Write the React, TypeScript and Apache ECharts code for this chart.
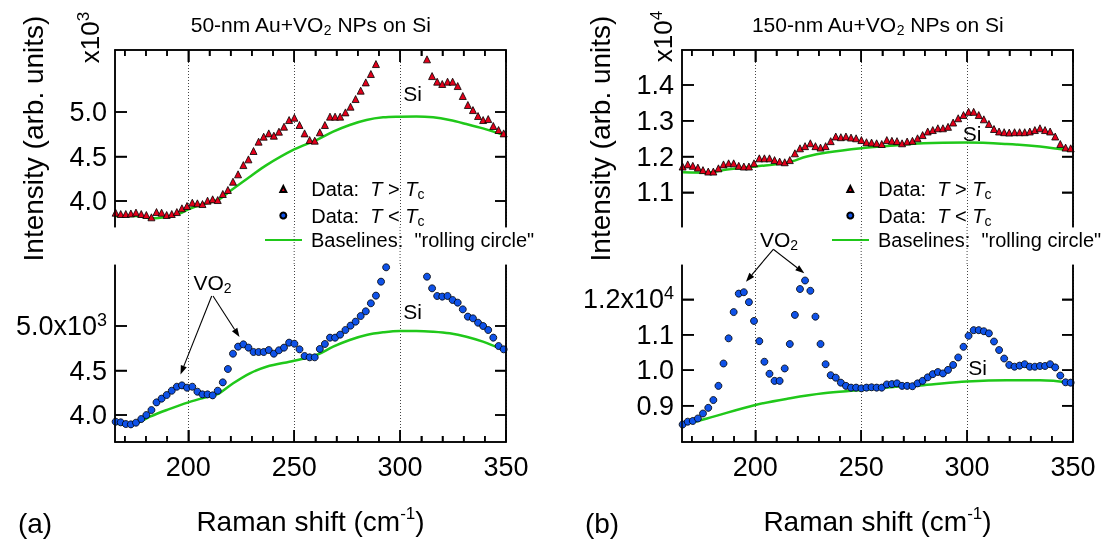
import React, { useEffect, useRef } from "react";
import * as echarts from "echarts";

// Raman shift (cm^-1) of every sample point
const ramanShift = [
  165.7, 168.1, 170.5, 172.9, 175.3, 177.8, 180.2, 182.6, 185.0, 187.4,
  189.8, 192.2, 194.6, 197.0, 199.4, 201.9, 204.3, 206.7, 209.1, 211.5,
  213.9, 216.3, 218.7, 221.1, 223.5, 226.0, 228.4, 230.8, 233.2, 235.6,
  238.0, 240.4, 242.8, 245.2, 247.6, 250.1, 252.5, 254.9, 257.3, 259.7,
  262.1, 264.5, 266.9, 269.3, 271.7, 274.2, 276.6, 279.0, 281.4, 283.8,
  286.2, 288.6, 291.0, 293.4, 295.8, 298.3, 300.7, 303.1, 305.5, 307.9,
  310.3, 312.7, 315.1, 317.5, 319.9, 322.4, 324.8, 327.2, 329.6, 332.0,
  334.4, 336.8, 339.2, 341.6, 344.0, 346.5, 348.9,
];

// 50-nm Au+VO2, T > Tc (null = off the top of the axis)
const hot50 = [
  3869, 3854, 3854, 3860, 3870, 3854, 3843, 3817, 3876, 3869,
  3843, 3854, 3876, 3918, 3944, 3981, 3974, 3966, 4004, 4019,
  4011, 4079, 4124, 4217, 4300, 4404, 4468, 4562, 4667, 4723,
  4760, 4734, 4779, 4835, 4910, 4936, 4854, 4760, 4685, 4678,
  4772, 4854, 4948, 4948, 4948, 4996, 5060, 5146, 5240, 5333,
  5427, 5539, null, null, null, null, null, null, null, null,
  null, 5592, 5404, 5341, 5315, 5341, 5341, 5292, 5180, 5079,
  5022, 4955, 4910, 4921, 4843, 4798, 4760,
];
// 50-nm Au+VO2, T < Tc
const cold50 = [
  3925, 3918, 3899, 3895, 3914, 3955, 4000, 4056, 4142, 4184,
  4225, 4273, 4318, 4333, 4307, 4318, 4262, 4232, 4232, 4221,
  4273, 4367, 4517, 4689, 4768, 4794, 4757, 4708, 4708, 4708,
  4730, 4689, 4727, 4757, 4813, 4801, 4738, 4663, 4648, 4648,
  4742, 4798, 4869, 4869, 4903, 4955, 5004, 5049, 5112, 5165,
  5255, 5341, 5498, 5659, null, null, null, null, null, null,
  null, 5554, 5423, 5337, 5330, 5337, 5292, 5262, 5187, 5105,
  5086, 5037, 5000, 4955, 4869, 4775, 4738,
];
// 150-nm Au+VO2, T > Tc
const hot150 = [
  11720, 11780, 11740, 11690, 11620, 11580, 11580, 11670, 11780, 11810,
  11810, 11740, 11720, 11720, 11810, 11950, 11950, 11950, 11900, 11860,
  11840, 11900, 12090, 12230, 12290, 12370, 12290, 12250, 12290, 12430,
  12560, 12540, 12560, 12530, 12510, 12460, 12400, 12390, 12370, 12350,
  12460, 12440, 12430, 12370, 12420, 12440, 12510, 12600, 12700, 12740,
  12790, 12790, 12830, 12950, 13070, 13160, 13250, 13250, 13160, 13040,
  12910, 12770, 12700, 12680, 12670, 12680, 12680, 12680, 12700, 12740,
  12790, 12740, 12700, 12560, 12350, 12250, 12230,
];
// 150-nm Au+VO2, T < Tc
const cold150 = [
  8470, 8550, 8570, 8640, 8780, 8940, 9160, 9560, 10190, 10900,
  11640, 12160, 12200, 11920, 11390, 10820, 10240, 9900, 9700, 9700,
  10050, 10740, 11560, 12290, 12530, 12240, 11510, 10740, 10170, 9860,
  9790, 9650, 9560, 9510, 9510, 9490, 9510, 9520, 9510, 9510,
  9600, 9610, 9630, 9560, 9560, 9550, 9630, 9700, 9800, 9890,
  9950, 9910, 10010, 10150, 10360, 10660, 10970, 11130, 11130, 11100,
  11040, 10810, 10570, 10330, 10150, 10100, 10130, 10170, 10100, 10100,
  10120, 10120, 10170, 10080, 9850, 9660, 9650,
];

// "rolling circle" baselines: [Raman shift, intensity]
const base50Hot = [
  [165.7, 3831], [175.6, 3831], [183.0, 3805], [189.8, 3824], [196.1, 3861],
  [200.0, 3906], [205.5, 3955], [214.6, 4019], [219.6, 4110], [229.1, 4273],
  [236.9, 4404], [250.0, 4580], [260.5, 4685], [268.4, 4779], [276.2, 4854],
  [284.1, 4910], [292.0, 4940], [299.8, 4948], [307.7, 4950], [315.6, 4940],
  [323.4, 4910], [331.3, 4865], [339.1, 4816], [349.0, 4742],
];
const base50Cold = [
  [165.7, 3906], [172.5, 3888], [177.2, 3925], [181.9, 3981], [189.8, 4056],
  [200.0, 4142], [212.3, 4225], [214.6, 4243], [221.2, 4356], [229.1, 4468],
  [236.9, 4543], [250.0, 4610], [260.5, 4674], [268.4, 4768], [276.2, 4843],
  [284.1, 4899], [292.0, 4929], [299.8, 4944], [307.7, 4944], [315.6, 4936],
  [323.4, 4918], [331.3, 4880], [339.1, 4824], [349.0, 4730],
];
const base150Hot = [
  [165.9, 11560], [177.2, 11550], [185.0, 11620], [200.0, 11720], [214.9, 11830],
  [224.4, 12000], [233.8, 12110], [250.0, 12230], [263.7, 12300], [279.4, 12370],
  [299.8, 12390], [318.7, 12350], [334.4, 12280], [349.2, 12160],
];
const base150Cold = [
  [165.9, 8470], [177.2, 8640], [200.0, 9020], [216.5, 9210], [232.2, 9350],
  [250.0, 9440], [263.7, 9520], [279.4, 9580], [299.8, 9680], [318.7, 9720],
  [334.4, 9720], [349.2, 9650],
];

const majorTicks = [200, 250, 300, 350];
const minorTicks = [170, 180, 190, 210, 220, 230, 240, 260, 270, 280, 290, 310, 320, 330, 340];
const guideLines = [200, 250, 300];
const yTicks50 = [4000, 4500, 5000];
const yTicks150Hot = [11000, 12000, 13000, 14000];
const yTicks150Cold = [9000, 10000, 11000, 12000];

const NAME_HOT = "Data: T > Tc";
const NAME_COLD = "Data: T < Tc";
const NAME_BASE = 'Baselines: "rolling circle"';

const FONT = "'Liberation Sans', Arial, Helvetica, sans-serif";
const X_MIN = 165.4;
const X_MAX = 350;
const RED = "#e3001b";
const BLUE = "#0f52e8";
const GREEN = "#20c81a";
const TOP_Y = 50;
const SUB_H = 177;
const BOT_Y = 265;
const GRID_W = 391;

function pairs(ys: (number | null)[]) {
  const out: number[][] = [];
  ramanShift.forEach((x, i) => {
    const y = ys[i];
    if (y !== null && y !== undefined) out.push([x, y]);
  });
  return out;
}

function arrow(x1: number, y1: number, x2: number, y2: number) {
  const ang = Math.atan2(y2 - y1, x2 - x1);
  const L = 9;
  const W = 3.2;
  const bx = x2 - L * Math.cos(ang);
  const by = y2 - L * Math.sin(ang);
  const px = -Math.sin(ang) * W;
  const py = Math.cos(ang) * W;
  return [
    { type: "line", shape: { x1, y1, x2: bx, y2: by }, style: { stroke: "#000", lineWidth: 1.1 } },
    {
      type: "polygon",
      shape: { points: [[x2, y2], [bx + px, by + py], [bx - px, by - py]] },
      style: { fill: "#000" },
    },
  ];
}

const ls = () => ({ color: "#000", width: 1.5 });
const dotted = () => ({ show: true, lineStyle: { color: "#444", width: 1, type: [1, 2] } });
// filled bars for frame and ticks (vertical / horizontal)
const vbar = (x: number, y1: number, y2: number, w = 1.5, color = "#000") => ({
  type: "rect", z: 5,
  shape: { x: x - w / 2, y: Math.min(y1, y2), width: w, height: Math.abs(y2 - y1) },
  style: { fill: color },
});
const hbar = (y: number, x1: number, x2: number, w = 1.5) => ({
  type: "rect", z: 5,
  shape: { x: Math.min(x1, x2), y: y - w / 2, width: Math.abs(x2 - x1), height: w },
  style: { fill: "#000" },
});

function buildOption() {
  const panels = [
    {
      left: 115, hot: hot50, cold: cold50, baseHot: base50Hot, baseCold: base50Cold,
      hotRange: [3708, 5697], coldRange: [3697, 5685], hotTicks: yTicks50, coldTicks: yTicks50,
      scale: 1000, exp: "3", marked: 5000,
    },
    {
      left: 682, hot: hot150, cold: cold150, baseHot: base150Hot, baseCold: base150Cold,
      hotRange: [10030, 14978], coldRange: [7977, 12967], hotTicks: yTicks150Hot, coldTicks: yTicks150Cold,
      scale: 10000, exp: "4", marked: 12000,
    },
  ];
  const grid: any[] = [];
  const xAxis: any[] = [];
  const yAxis: any[] = [];
  const series: any[] = [];
  const legend: any[] = [];
  const frame: any[] = [];
  const tickLabel = () => ({ fontSize: 27, fontFamily: FONT, color: "#000" });
  const supRich = () => ({
    m: { fontSize: 27, fontFamily: FONT, color: "#000", lineHeight: 30 },
    sup: { fontSize: 18, fontFamily: FONT, color: "#000", lineHeight: 16, verticalAlign: "top" },
  });

  panels.forEach((p, k) => {
    const gi = k * 2;
    const L = p.left;
    const R = p.left + GRID_W;
    grid.push({ left: L, width: GRID_W, top: TOP_Y, height: SUB_H });
    grid.push({ left: L, width: GRID_W, top: BOT_Y, height: SUB_H });

    const xBase = () => ({ type: "value", min: X_MIN, max: X_MAX, splitLine: { show: false } });
    xAxis.push({
      ...xBase(), gridIndex: gi, position: "top",
      axisLine: { show: true, onZero: false, lineStyle: ls() },
      axisTick: { show: true, inside: true, length: 12, customValues: majorTicks, lineStyle: ls() },
      axisLabel: { show: false },
      splitLine: dotted(),
    });
    xAxis.push({
      ...xBase(), gridIndex: gi, position: "top",
      axisLine: { show: false, onZero: false },
      axisTick: { show: true, inside: true, length: 6, customValues: minorTicks, lineStyle: ls() },
      axisLabel: { show: false },
    });
    xAxis.push({
      ...xBase(), gridIndex: gi + 1, position: "bottom",
      axisLine: { show: true, onZero: false, lineStyle: ls() },
      axisTick: { show: true, inside: true, length: 12, customValues: majorTicks, lineStyle: ls() },
      axisLabel: { show: true, customValues: majorTicks, margin: 11, ...tickLabel() },
      splitLine: dotted(),
    });
    xAxis.push({
      ...xBase(), gridIndex: gi + 1, position: "bottom",
      axisLine: { show: false, onZero: false },
      axisTick: { show: true, inside: true, length: 6, customValues: minorTicks, lineStyle: ls() },
      axisLabel: { show: false },
    });

    const yLeft = (gIdx: number, range: number[], ticks: number[], fmt: (v: number) => string) => ({
      type: "value", gridIndex: gIdx, position: "left", min: range[0], max: range[1],
      splitLine: { show: false },
      axisLine: { show: true, onZero: false, lineStyle: ls() },
      axisTick: { show: true, inside: true, length: 12, customValues: ticks, lineStyle: ls() },
      axisLabel: { show: true, customValues: ticks, margin: 8, formatter: fmt, rich: supRich(), ...tickLabel() },
    });
    const yRight = (gIdx: number, range: number[], ticks: number[]) => ({
      type: "value", gridIndex: gIdx, position: "right", min: range[0], max: range[1],
      splitLine: { show: false },
      axisLine: { show: true, onZero: false, lineStyle: ls() },
      axisTick: { show: true, inside: true, length: 11, customValues: ticks, lineStyle: ls() },
      axisLabel: { show: false },
    });
    const sc = p.scale;
    yAxis.push(yLeft(gi, p.hotRange, p.hotTicks, (v: number) => (v / sc).toFixed(1)));
    yAxis.push(yRight(gi, p.hotRange, p.hotTicks));
    yAxis.push(
      yLeft(gi + 1, p.coldRange, p.coldTicks, (v: number) =>
        v === p.marked ? `{m|${(v / sc).toFixed(1)}x10}{sup|${p.exp}}` : (v / sc).toFixed(1))
    );
    yAxis.push(yRight(gi + 1, p.coldRange, p.coldTicks));

    // frame, ticks and gap guide lines, laid out on the same scales as the axes
    const px = (v: number) => L + ((v - X_MIN) / (X_MAX - X_MIN)) * GRID_W;
    const py = (v: number, top: number, range: number[]) => top + ((range[1] - v) / (range[1] - range[0])) * SUB_H;
    const tb = TOP_Y + SUB_H;
    const bb = BOT_Y + SUB_H;
    frame.push(hbar(TOP_Y, L - 0.75, R + 0.75), vbar(L, TOP_Y, tb), vbar(R, TOP_Y, tb));
    frame.push(hbar(bb, L - 0.75, R + 0.75), vbar(L, BOT_Y, bb), vbar(R, BOT_Y, bb));
    majorTicks.forEach((v) => {
      frame.push(vbar(px(v), TOP_Y, TOP_Y + 12), vbar(px(v), bb, bb - 12));
    });
    minorTicks.forEach((v) => {
      frame.push(vbar(px(v), TOP_Y, TOP_Y + 6), vbar(px(v), bb, bb - 6));
    });
    p.hotTicks.forEach((v) => {
      const y = py(v, TOP_Y, p.hotRange);
      frame.push(hbar(y, L, L + 12), hbar(y, R - 11, R));
    });
    p.coldTicks.forEach((v) => {
      const y = py(v, BOT_Y, p.coldRange);
      frame.push(hbar(y, L, L + 12), hbar(y, R - 11, R));
    });
    guideLines.forEach((v) => {
      for (let y = tb; y < BOT_Y; y += 3) {
        frame.push(vbar(px(v), y, Math.min(y + 1, BOT_Y), 1, "#444"));
      }
    });

    const ai = k * 4;
    series.push({
      type: "line", name: NAME_BASE, xAxisIndex: ai, yAxisIndex: ai,
      data: p.baseHot, symbol: "none", showSymbol: false, smooth: 0.35, z: 2,
      lineStyle: { color: GREEN, width: 2.5 }, itemStyle: { color: GREEN },
    });
    series.push({
      type: "scatter", name: NAME_HOT, xAxisIndex: ai, yAxisIndex: ai,
      data: pairs(p.hot), symbol: "triangle", symbolSize: [7, 7], z: 3,
      itemStyle: { color: RED, borderColor: "#000", borderWidth: 0.8, opacity: 1 },
    });
    series.push({
      type: "line", name: NAME_BASE, xAxisIndex: ai + 2, yAxisIndex: ai + 2,
      data: p.baseCold, symbol: "none", showSymbol: false, smooth: 0.35, z: 2,
      lineStyle: { color: GREEN, width: 2.5 }, itemStyle: { color: GREEN },
    });
    series.push({
      type: "scatter", name: NAME_COLD, xAxisIndex: ai + 2, yAxisIndex: ai + 2,
      data: pairs(p.cold), symbol: "circle", symbolSize: 7, z: 3,
      itemStyle: { color: BLUE, borderColor: "#000", borderWidth: 0.8, opacity: 1 },
    });

    const dx = p.left - 115;
    const legRich = () => ({
      g: { width: 20, fontSize: 20, lineHeight: 24 },
      g2: { width: 4, fontSize: 20, lineHeight: 24 },
      n: { fontSize: 20, fontFamily: FONT, color: "#000", lineHeight: 24 },
      i: { fontSize: 20, fontFamily: FONT, fontStyle: "italic", color: "#000", lineHeight: 24 },
      s: { fontSize: 14, fontFamily: FONT, color: "#000", lineHeight: 14, verticalAlign: "bottom" },
    });
    const legBase = () => ({
      orient: "vertical", padding: 0, selectedMode: false,
      textStyle: { fontSize: 20, fontFamily: FONT, color: "#000", rich: legRich() },
    });
    legend.push({
      ...legBase(), data: [NAME_HOT], left: 279.3 + dx, top: 191 - 12, itemWidth: 6, itemHeight: 6,
      formatter: () => "{g| }{n|Data:  }{i|T}{n| > }{i|T}{s|c}",
    });
    legend.push({
      ...legBase(), data: [NAME_COLD], left: 279.3 + dx, top: 217.5 - 12, itemWidth: 6, itemHeight: 6,
      formatter: () => "{g| }{n|Data:  }{i|T}{n| < }{i|T}{s|c}",
    });
    legend.push({
      ...legBase(), data: [NAME_BASE], left: 264 + dx, top: 242 - 12, itemWidth: 37, itemHeight: 2,
      formatter: () => '{g2| }{n|Baselines:  "rolling circle"}',
    });
  });

  const txt = (x: number, y: number, text: string, fontSize: number, extra: any = {}) => ({
    type: "text", x, y, z: 10,
    style: {
      text, fontSize, fontFamily: FONT, fill: "#000", align: "center", verticalAlign: "middle",
      ...extra,
    },
  });
  const subRich = (size: number) => ({
    n: { fontSize: size, fontFamily: FONT, fill: "#000", lineHeight: size + 5 },
    s: { fontSize: Math.round(size * 0.66), fontFamily: FONT, fill: "#000", lineHeight: Math.round(size * 0.66), verticalAlign: "bottom" },
  });
  const supRichG = (size: number, supSize: number) => ({
    n: { fontSize: size, fontFamily: FONT, fill: "#000", lineHeight: size + 4 },
    sup: { fontSize: supSize, fontFamily: FONT, fill: "#000", lineHeight: 16, verticalAlign: "top" },
  });

  const graphic: any[] = [
    txt(310.5, 24, "{n|50-nm Au+VO}{s|2}{n| NPs on Si}", 21, { rich: subRich(21) }),
    txt(877.5, 24, "{n|150-nm Au+VO}{s|2}{n| NPs on Si}", 21, { rich: subRich(21) }),
    { ...txt(90, 37.5, "{n|x10}{sup|3}", 26, { rich: supRichG(26, 17) }), rotation: Math.PI / 2 },
    { ...txt(662.5, 36.5, "{n|x10}{sup|4}", 26, { rich: supRichG(26, 17) }), rotation: Math.PI / 2 },
    { ...txt(33, 138.5, "Intensity (arb. units)", 28), rotation: Math.PI / 2 },
    { ...txt(600, 138.5, "Intensity (arb. units)", 28), rotation: Math.PI / 2 },
    txt(310.5, 521, "{n|Raman shift (cm}{sup|-1}{n|)}", 28, { rich: supRichG(28, 17) }),
    txt(877.5, 521, "{n|Raman shift (cm}{sup|-1}{n|)}", 28, { rich: supRichG(28, 17) }),
    txt(412.5, 93, "Si", 21),
    txt(412.5, 311.5, "Si", 21),
    txt(972, 133, "Si", 21),
    txt(977.5, 367, "Si", 21),
    txt(212.5, 282, "{n|VO}{s|2}", 21, { rich: subRich(21) }),
    txt(779, 239, "{n|VO}{s|2}", 21, { rich: subRich(21) }),
    txt(35, 523, "(a)", 28),
    txt(602, 523, "(b)", 28),
    ...arrow(211.7, 296, 180.5, 374.5),
    ...arrow(213, 296, 239.5, 337),
    ...arrow(773.3, 249.3, 746, 281.7),
    ...arrow(773.3, 249.3, 804.3, 273.3),
    ...frame,
  ];

  return {
    animation: false,
    grid, xAxis, yAxis, series, legend,
    graphic: { elements: graphic },
  };
}

export default function App() {
  const ref = useRef<HTMLDivElement>(null);
  useEffect(() => {
    if (!ref.current) return;
    const chart = echarts.init(ref.current, null, { renderer: "svg" });
    chart.setOption(buildOption() as any);
    return () => chart.dispose();
  }, []);
  return (
    <div
      ref={ref}
      style={{ position: "fixed", left: 0, top: 0, width: 1101, height: 541 }}
    />
  );
}
